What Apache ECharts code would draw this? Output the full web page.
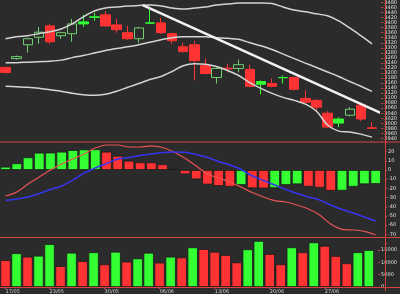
<!DOCTYPE html>
<html><head><meta charset="utf-8">
<script src="https://cdn.jsdelivr.net/npm/echarts@6/dist/echarts.min.js"></script>
<style>html,body{margin:0;padding:0;background:#2b2b2b}#c{width:400px;height:294px}</style>
</head><body><div id="c"></div>
<script>
// ---------- data ----------
const dates = ['17/05','18/05','19/05','20/05','23/05','24/05','25/05','26/05','27/05','30/05','31/05','01/06','02/06','03/06','06/06','07/06','08/06','09/06','10/06','13/06','14/06','15/06','16/06','17/06','20/06','21/06','22/06','23/06','24/06','27/06','28/06','29/06','30/06','01/07'];
const labelIdx = [0, 4, 9, 14, 19, 24, 29];
const open  = [3222,3257,3312,3342,3387,3348,3356,3395,3421,3431,3391,3360,3336,3398,3399,3356,3304,3312,3229,3182,3219,3218,3214,3155,3158,3181,3182,3099,3091,3040,3001,3032,3072,2982];
const close = [3202,3265,3336,3362,3324,3360,3395,3403,3423,3387,3372,3336,3379,3399,3360,3328,3285,3249,3198,3218,3216,3233,3147,3166,3147,3182,3135,3084,3064,2985,3017,3056,3017,2980];
const low   = [3198,3253,3281,3316,3316,3336,3324,3383,3407,3383,3360,3332,3320,3395,3356,3316,3281,3170,3194,3158,3202,3202,3143,3115,3143,3158,3131,3080,3048,2981,2985,3028,3009,2977];
const high  = [3226,3269,3340,3383,3395,3364,3415,3431,3439,3446,3415,3387,3383,3454,3419,3360,3320,3328,3257,3222,3237,3253,3233,3170,3178,3190,3186,3131,3095,3048,3024,3064,3076,3005];
const bbUpper = [3336,3344,3348,3356,3364,3375,3395,3423,3446,3458,3462,3466,3468,3470,3466,3458,3454,3458,3462,3470,3474,3478,3478,3478,3476,3462,3450,3443,3435,3427,3407,3379,3348,3316];
const bbMid   = [3241,3241,3243,3245,3247,3251,3261,3269,3279,3289,3297,3304,3312,3322,3332,3340,3344,3344,3344,3340,3338,3334,3320,3308,3293,3275,3257,3239,3222,3204,3186,3166,3147,3127];
const bbLower = [3147,3145,3143,3139,3133,3127,3119,3113,3111,3115,3127,3143,3158,3174,3186,3206,3229,3237,3235,3226,3210,3190,3162,3139,3119,3103,3091,3076,3048,2993,2969,2965,2957,2945];
const trendLine = [[12.35, 3470], [33.83, 3040]];
const macdHist = [3.6,7.3,13.8,18.8,18.9,19.9,21.7,22.4,22.5,19.9,15.5,10.1,8.4,8.3,6.2,1.1,-4.7,-10.1,-15.8,-17.4,-18.2,-16.3,-19.8,-20.0,-19.7,-16.3,-15.5,-18.2,-19.2,-22.6,-22.4,-18.2,-15.5,-15.2];
const macdDif  = [-28.3,-23.9,-15.2,-7.6,0,6.5,12,17.4,23.9,27.2,27.2,25,25,26.3,24.5,19.6,12.7,4.3,-4.3,-8.7,-13,-18.5,-24.5,-29.3,-33.2,-34.8,-38,-42.4,-48.9,-58.7,-64.5,-65.2,-66.8,-70.7];
const macdDea  = [-33.2,-31.5,-29.3,-25.5,-21.2,-17.4,-10.9,-3.3,2.2,7,12,13.6,15.8,17.4,19,19.6,19.2,16.8,13.6,9.2,5.4,0.5,-6.5,-11.4,-16.3,-21.2,-25.5,-29.3,-32.6,-38,-42.9,-46.7,-51.1,-55.4];
const macdPrev = 0;
const volume = [10900,13700,12300,12700,17400,8500,13900,10500,14100,9200,14300,10300,11600,13900,9900,12300,12000,16100,15400,14300,13000,10000,15300,18700,13400,9200,16100,14100,18100,16700,12600,9600,14100,15000];
const volPrev = 12000;
const priceTicks = {min: 2940, max: 3480, step: 20};
const macdTicks = {min: -80, max: 30, step: 10};
const volTicks = {min: 0, max: 20000, step: 5000};

// ---------- styles ----------
const BG = '#2b2b2b', GREEN = '#33ff33', RED = '#ff3333', HOLLOW_GREEN = '#72d072', AXIS_RED = '#d94040';
const HOLLOW = new Set([1,2,3,5,6,12,19,21,31]);
const FONT = 'DejaVu Sans';
const L = -9.75, W = 391;

const candleData = dates.map((d, i) => {
  const item = {value: [open[i], close[i], low[i], high[i]]};
  if (HOLLOW.has(i)) item.itemStyle = {color: BG, borderColor: HOLLOW_GREEN};
  return item;
});
const histData = macdHist.map((v, i) => ({
  value: v,
  itemStyle: {color: v >= (i ? macdHist[i-1] : macdPrev) ? GREEN : RED}
}));
const volData = volume.map((v, i) => ({
  value: v,
  itemStyle: {color: v >= (i ? volume[i-1] : volPrev) ? GREEN : RED}
}));
const lastClose = close[close.length - 1];

const catAxis = (g, showLabels) => ({
  type: 'category', gridIndex: g, data: dates, boundaryGap: true,
  axisLine: {show: false, onZero: false}, splitLine: {show: false},
  axisTick: {show: showLabels, alignWithLabel: true, interval: (i) => labelIdx.includes(i), length: 2, lineStyle: {color: AXIS_RED}},
  axisLabel: {show: showLabels, interval: (i) => labelIdx.includes(i), align: 'left', margin: 2, fontSize: 5, fontFamily: FONT, color: '#d0d0d0'}
});
const valAxis = (g, t, hide) => ({
  type: 'value', gridIndex: g, position: 'right', offset: 3.75,
  min: t.min, max: t.max, interval: t.step,
  axisLine: {show: false, onZero: false}, splitLine: {show: false},
  axisTick: {show: true, length: 2, lineStyle: {color: AXIS_RED}},
  axisLabel: {margin: 3, fontSize: 5, fontFamily: FONT, color: '#e0e0e0',
    formatter: (v) => hide.includes(v) ? '' : String(v)}
});

const chart = echarts.init(document.getElementById('c'), null, {renderer: 'canvas'});
chart.setOption({
  animation: false,
  backgroundColor: BG,
  grid: [
    {left: L, width: W, top: 1.5, height: 136.9},
    {left: L, width: W, top: 142.4, height: 101.2},
    {left: L, width: W, top: 237.7, height: 49.3}
  ],
  xAxis: [
    catAxis(0, false),
    {type: 'value', gridIndex: 0, min: -0.5, max: 33.5, show: false, axisLine: {onZero: false}},
    catAxis(1, false),
    catAxis(2, true)
  ],
  yAxis: [
    valAxis(0, priceTicks, []),
    valAxis(1, macdTicks, [macdTicks.min, macdTicks.max]),
    valAxis(2, volTicks, [volTicks.max])
  ],
  graphic: [
    {type: 'line', shape: {x1: 0, y1: 142, x2: 400, y2: 142}, style: {stroke: AXIS_RED, lineWidth: 1}, z: 100},
    {type: 'line', shape: {x1: 0, y1: 237.5, x2: 400, y2: 237.5}, style: {stroke: AXIS_RED, lineWidth: 1}, z: 100},
    {type: 'line', shape: {x1: 0, y1: 287.5, x2: 400, y2: 287.5}, style: {stroke: AXIS_RED, lineWidth: 1}, z: 100},
    {type: 'line', shape: {x1: 385.5, y1: 0, x2: 385.5, y2: 291}, style: {stroke: AXIS_RED, lineWidth: 1}, z: 100}
  ],
  series: [
    {type: 'candlestick', xAxisIndex: 0, yAxisIndex: 0, data: candleData, barWidth: '90%',
      itemStyle: {color: GREEN, color0: RED, borderColor: GREEN, borderColor0: RED, borderWidth: 1},
      markLine: {symbol: 'none', silent: true, lineStyle: {opacity: 0},
        label: {position: 'end', distance: 6, fontSize: 5, fontFamily: FONT, color: '#ffffff',
          backgroundColor: '#7b46ff', padding: [1, 1], formatter: (p) => String(p.value)},
        data: [{yAxis: lastClose}]}
    },
    {type: 'line', xAxisIndex: 0, yAxisIndex: 0, data: bbUpper, symbol: 'none', smooth: 0.3, lineStyle: {color: '#d4d4d4', width: 1.5}, z: 3},
    {type: 'line', xAxisIndex: 0, yAxisIndex: 0, data: bbMid, symbol: 'none', smooth: 0.3, lineStyle: {color: '#d4d4d4', width: 1.5}, z: 3},
    {type: 'line', xAxisIndex: 0, yAxisIndex: 0, data: bbLower, symbol: 'none', smooth: 0.3, lineStyle: {color: '#d4d4d4', width: 1.5}, z: 3},
    {type: 'line', xAxisIndex: 1, yAxisIndex: 0, data: trendLine, symbol: 'none', clip: false, lineStyle: {color: '#f2f2f2', width: 2.5}, z: 4},
    {type: 'bar', xAxisIndex: 2, yAxisIndex: 1, data: histData, barCategoryGap: '6%',
      itemStyle: {borderColor: '#1c1c1c', borderWidth: 0.8}},
    {type: 'line', xAxisIndex: 2, yAxisIndex: 1, data: macdDif, symbol: 'none', smooth: 0.3, lineStyle: {color: '#e85454', width: 1.2}, z: 3},
    {type: 'line', xAxisIndex: 2, yAxisIndex: 1, data: macdDea, symbol: 'none', smooth: 0.3, lineStyle: {color: '#3535f0', width: 1.5}, z: 3},
    {type: 'bar', xAxisIndex: 3, yAxisIndex: 2, data: volData, barCategoryGap: '6%',
      itemStyle: {borderColor: '#1c1c1c', borderWidth: 0.8}}
  ]
});
</script>
</body></html>
